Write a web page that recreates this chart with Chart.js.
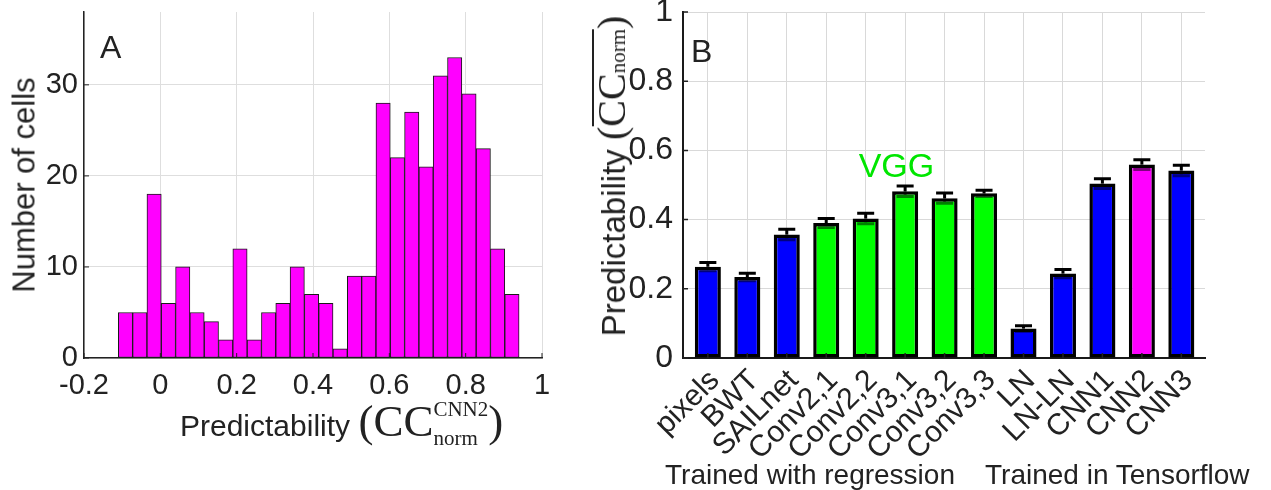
<!DOCTYPE html>
<html lang="en">
<head>
<meta charset="UTF-8">
<title>Predictability of cells</title>
<script src="https://cdn.jsdelivr.net/npm/chart.js"></script>
<style>
  body { margin:0; background:#fff; font-family:"Liberation Sans", Arial, sans-serif; color:#222; }
  #page { position:relative; width:1271px; height:490px; overflow:hidden; }
  canvas { position:absolute; top:0; }
  #chartA { left:0; }
  #chartB { left:580px; }
  .lbl { position:absolute; white-space:nowrap; font-size:30px; line-height:1; }
  .rot { transform:translate(-50%,-50%) rotate(-90deg); }
  .m { font-family:"Liberation Serif", "DejaVu Serif", serif; }
  .big { font-size:40px; }
  .huge { font-size:45px; }
  .ss { display:inline-block; font-family:"Liberation Serif", serif; font-size:21px; line-height:29px; vertical-align:-9px; }
  .ss span { display:block; }
  .ovl { display:inline-block; border-top:2px solid #222; line-height:36px; }
  .sub { font-size:21px; }
</style>
</head>
<body>
<div id="page">
  <canvas id="chartA" width="580" height="490"></canvas>
  <canvas id="chartB" width="691" height="490"></canvas>

  <div class="lbl" style="left:100px; top:31px; font-size:32px;">A</div>
  <div class="lbl" style="left:691px; top:35px; font-size:32px;">B</div>

  <div class="lbl rot" style="left:24px; top:185px; font-size:31px;">Number of cells</div>
  <div class="lbl" style="left:180px; top:395px;">Predictability <span class="m huge">(CC</span><span class="ss"><span>CNN2</span><span>norm</span></span><span class="m huge">)</span></div>

  <div class="lbl rot" style="left:614px; top:176px; font-size:33px;">Predictability <span class="m big">(</span><span class="ovl"><span class="m big">CC</span><span class="m sub">norm</span></span><span class="m big">)</span></div>
  <div class="lbl" style="left:665px; top:461px; font-size:28px;">Trained with regression</div>
  <div class="lbl" style="left:985px; top:461px; font-size:28px;">Trained in Tensorflow</div>
</div>
<script>
  // Panel A: histogram of CC_norm for CNN2
  const binCenters = [-0.0913, -0.0538, -0.0163, 0.0212, 0.0587, 0.0962, 0.1337, 0.1712, 0.2087, 0.2462,
                      0.2837, 0.3212, 0.3587, 0.3962, 0.4337, 0.4712, 0.5087, 0.5462, 0.5837, 0.6212,
                      0.6587, 0.6962, 0.7337, 0.7712, 0.8087, 0.8462, 0.8837, 0.9212];
  const cellCounts = [5, 5, 18, 6, 10, 5, 4, 2, 12, 2, 5, 6, 10, 7, 6, 1, 9, 9, 28, 22, 27, 21, 31, 33, 29, 23, 12, 7];

  // Panel B: mean predictability per model, with error bars
  const modelNames = ['pixels', 'BWT', 'SAILnet', 'Conv2,1', 'Conv2,2', 'Conv3,1', 'Conv3,2', 'Conv3,3',
                      'LN', 'LN-LN', 'CNN1', 'CNN2', 'CNN3'];
  const predictability = [0.264, 0.234, 0.357, 0.390, 0.403, 0.482, 0.462, 0.476, 0.085, 0.244, 0.504, 0.559, 0.542];
  const semErr = [0.012, 0.011, 0.015, 0.013, 0.015, 0.015, 0.015, 0.009, 0.008, 0.012, 0.014, 0.014, 0.015];
  const barColors = ['#0000ff', '#0000ff', '#0000ff', '#00ff00', '#00ff00', '#00ff00', '#00ff00', '#00ff00',
                     '#0000ff', '#0000ff', '#0000ff', '#ff00ff', '#0000ff'];
  const groupLabel = { text: 'VGG', x: 5.78, y: 0.522 };

  const sans = '"Liberation Sans", Arial, sans-serif';
  const ink = '#222';
  const fmt = v => String(Math.round(v * 10) / 10);

  // MATLAB style ticks pointing into the axes
  const inwardTicks = {
    id: 'inwardTicks',
    afterDraw(chart, args, opts) {
      const { ctx, chartArea: a, scales: { x, y } } = chart;
      ctx.save();
      ctx.strokeStyle = ink;
      ctx.lineWidth = opts.width;
      ctx.beginPath();
      x.ticks.forEach(t => {
        const px = x.getPixelForValue(t.value);
        ctx.moveTo(px, a.bottom); ctx.lineTo(px, a.bottom - opts.len);
      });
      y.ticks.forEach(t => {
        const py = y.getPixelForValue(t.value);
        ctx.moveTo(a.left, py); ctx.lineTo(a.left + opts.len, py);
      });
      ctx.stroke();
      ctx.restore();
    }
  };

  const errorBars = {
    id: 'errorBars',
    afterDatasetsDraw(chart) {
      const ctx = chart.ctx, y = chart.scales.y;
      const half = 8.5;
      ctx.save();
      ctx.lineWidth = 3;
      chart.getDatasetMeta(0).data.forEach((bar, i) => {
        const top = y.getPixelForValue(predictability[i] + semErr[i]);
        const mid = y.getPixelForValue(predictability[i]);
        const bot = y.getPixelForValue(predictability[i] - semErr[i]);
        ctx.strokeStyle = '#000';
        ctx.beginPath();
        ctx.moveTo(bar.x, top); ctx.lineTo(bar.x, mid);
        ctx.moveTo(bar.x - half, top); ctx.lineTo(bar.x + half, top);
        ctx.stroke();
        ctx.strokeStyle = 'rgba(0,0,0,0.5)';
        ctx.beginPath();
        ctx.moveTo(bar.x, mid); ctx.lineTo(bar.x, bot);
        ctx.moveTo(bar.x - half, bot); ctx.lineTo(bar.x + half, bot);
        ctx.stroke();
      });
      ctx.restore();
    }
  };

  const vggLabel = {
    id: 'vggLabel',
    afterDatasetsDraw(chart) {
      const { ctx, scales: { x, y } } = chart;
      ctx.save();
      ctx.fillStyle = '#00e600';
      ctx.font = '34px ' + sans;
      ctx.textAlign = 'center';
      ctx.textBaseline = 'alphabetic';
      ctx.fillText(groupLabel.text, x.getPixelForValue(groupLabel.x), y.getPixelForValue(groupLabel.y));
      ctx.restore();
    }
  };

  new Chart(document.getElementById('chartA'), {
    type: 'bar',
    data: {
      datasets: [{
        data: binCenters.map((c, i) => ({ x: c, y: cellCounts[i] })),
        backgroundColor: '#ff00ff',
        borderColor: '#1a1a1a',
        borderWidth: 1,
        borderSkipped: false,
        barPercentage: 1,
        categoryPercentage: 1
      }]
    },
    options: {
      responsive: false,
      animation: false,
      layout: { padding: { left: 24, right: 38, top: 12, bottom: 0 } },
      plugins: { legend: { display: false }, tooltip: { enabled: false }, inwardTicks: { len: 5, width: 1 } },
      scales: {
        x: {
          type: 'linear', min: -0.2, max: 1, offset: false,
          grid: { offset: false, color: '#dedede', drawTicks: false },
          border: { color: ink, width: 1.5 },
          ticks: { stepSize: 0.2, padding: 11, color: ink, font: { family: sans, size: 29 }, callback: fmt },
          afterFit: s => { s.height = 132; s.paddingLeft = 0; s.paddingRight = 0; }
        },
        y: {
          min: 0, max: 38,
          grid: { color: '#dedede', drawTicks: false },
          border: { color: ink, width: 1.5 },
          ticks: { stepSize: 10, includeBounds: false, padding: 6, color: ink, font: { family: sans, size: 29 } },
          afterFit: s => { s.width = 60; s.paddingTop = 0; s.paddingBottom = 0; }
        }
      }
    },
    plugins: [inwardTicks]
  });

  new Chart(document.getElementById('chartB'), {
    type: 'bar',
    data: {
      datasets: [{
        data: modelNames.map((n, i) => ({ x: i + 1, y: predictability[i] })),
        backgroundColor: barColors,
        borderColor: '#000',
        borderWidth: 3.5,
        borderSkipped: false,
        barPercentage: 0.66,
        categoryPercentage: 1
      }]
    },
    options: {
      responsive: false,
      animation: false,
      layout: { padding: { left: 43, right: 66, top: 12, bottom: 0 } },
      plugins: { legend: { display: false }, tooltip: { enabled: false }, inwardTicks: { len: 5, width: 1.5 } },
      scales: {
        x: {
          type: 'linear', min: 0.37, max: 13.6, offset: false,
          afterBuildTicks: s => { s.ticks = modelNames.map((n, i) => ({ value: i + 1 })); },
          grid: { offset: false, color: '#d9d9d9', drawTicks: false },
          border: { color: '#1a1a1a', width: 2 },
          ticks: {
            autoSkip: false, minRotation: 45, maxRotation: 45, padding: 5, labelOffset: 7, color: ink,
            font: { family: sans, size: 30 },
            callback: v => modelNames[Math.round(v) - 1]
          },
          afterFit: s => { s.height = 132; s.paddingLeft = 0; s.paddingRight = 0; }
        },
        y: {
          min: 0, max: 1,
          grid: { color: '#d9d9d9', drawTicks: false },
          border: { color: '#1a1a1a', width: 2 },
          ticks: { stepSize: 0.2, padding: 10, color: ink, font: { family: sans, size: 32 }, callback: fmt },
          afterFit: s => { s.width = 60; s.paddingTop = 0; s.paddingBottom = 0; }
        }
      }
    },
    plugins: [errorBars, vggLabel, inwardTicks]
  });
</script>
</body>
</html>
